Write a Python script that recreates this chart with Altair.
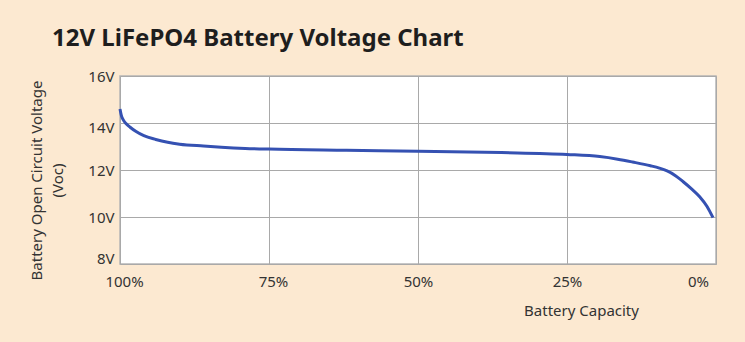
import altair as alt
import pandas as pd

capacity = [100, 99.8, 99.5, 99, 98.3, 97.3, 96, 94, 92, 90, 86, 83, 79, 75, 62, 50, 36, 25, 19.5, 16.5, 14, 11, 9.5, 8.2, 6.8, 5.5, 4.2, 2.7, 1.5, 0.5]
voltage = [14.6, 14.35, 14.15, 13.98, 13.82, 13.64, 13.46, 13.3, 13.18, 13.1, 13.02, 12.97, 12.92, 12.89, 12.84, 12.8, 12.74, 12.66, 12.57, 12.46, 12.34, 12.18, 12.08, 11.96, 11.76, 11.5, 11.22, 10.85, 10.45, 9.97]

x_ticks = [100, 75, 50, 25, 0]
y_ticks = [8, 10, 12, 14, 16]

df = pd.DataFrame({"capacity": capacity, "voltage": voltage})

FONT = "Noto Sans"
TXT = "#333333"

chart = alt.Chart(df).mark_line(
    color="#3551b2", strokeWidth=3, interpolate="monotone"
).encode(
    x=alt.X(
        "capacity:Q",
        scale=alt.Scale(domain=[100, 0]),
        axis=alt.Axis(
            values=x_ticks,
            labelExpr="datum.value + '%'",
            title="Battery Capacity",
            titleX=461,
            titleY=46,
            titleAlign="center",
            titleBaseline="middle",
            titleFontWeight="normal",
            titleFontSize=15,
            titleFont=FONT,
            titleColor=TXT,
            labelFont=FONT,
            labelFontSize=15,
            labelColor=TXT,
            labelPadding=10,
            labelFlush=False,
            labelOffset={"condition": [
                {"test": "datum.value == 0", "value": -18},
                {"test": "datum.value >= 75", "value": 4},
            ], "value": 0},
            ticks=False,
            domain=False,
            gridColor="#a9a9a9",
            gridWidth=1,
            gridOpacity=1,
        ),
    ),
    y=alt.Y(
        "voltage:Q",
        scale=alt.Scale(domain=[8, 16], nice=False, zero=False),
        axis=alt.Axis(
            values=y_ticks,
            labelExpr="datum.value + 'V'",
            title=["Battery Open Circuit Voltage", "(Voc)"],
            titleX=-84,
            titleY=104,
            titleAlign="center",
            titleBaseline="middle",
            titleLineHeight=21,
            titleFontWeight="normal",
            titleFontSize=15,
            titleFont=FONT,
            titleColor=TXT,
            labelFont=FONT,
            labelFontSize=15,
            labelColor=TXT,
            labelPadding=6,
            labelBaseline="middle",
            labelOffset={"condition": [
                {"test": "datum.value == 8", "value": -6},
                {"test": "datum.value == 14", "value": 4},
            ], "value": 0},
            ticks=False,
            domain=False,
            gridColor="#a9a9a9",
            gridWidth=1,
            gridOpacity=1,
        ),
    ),
).properties(
    width=596,
    height=188,
    background="#fce9d1",
    padding={"left": 120, "top": 76, "right": 29, "bottom": 78},
    autosize=alt.AutoSizeParams(type="none"),
    title=alt.TitleParams(
        "12V LiFePO4 Battery Voltage Chart",
        anchor="start",
        frame="group",
        dx=-68,
        offset=18,
        font=FONT,
        fontSize=24,
        fontWeight="bold",
        color="#1e1e1e",
    ),
).configure_view(
    fill="white",
    stroke="#b5b5b5",
    strokeWidth=1.5,
)

chart.save("out.html", embed_options={"renderer": "svg", "actions": False})
